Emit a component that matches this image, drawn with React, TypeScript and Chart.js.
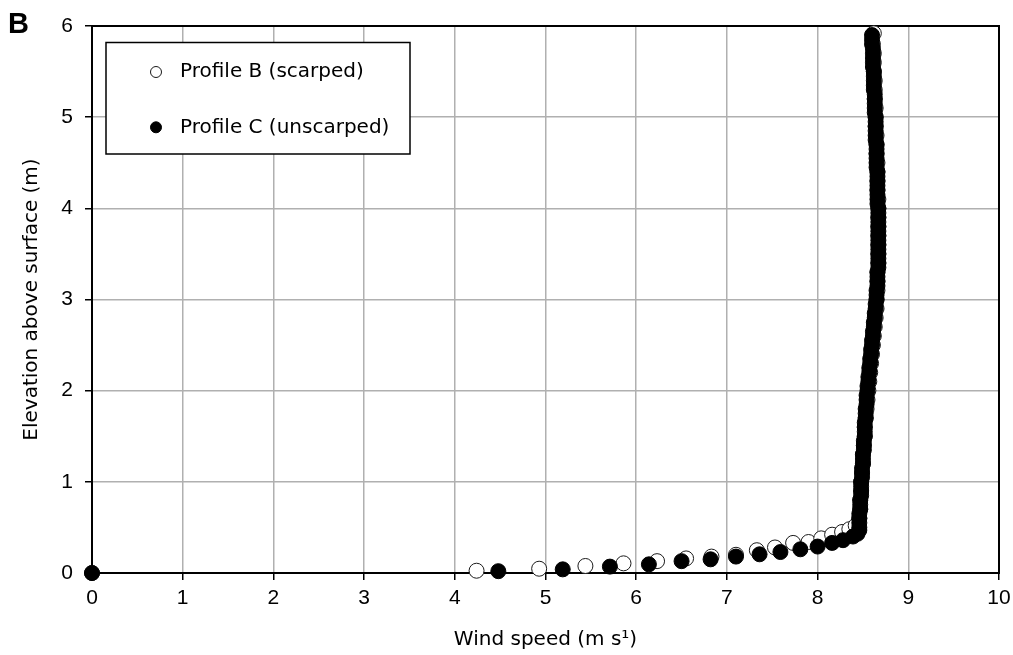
import { useEffect, useRef } from 'react';
import { Chart, registerables } from 'chart.js';

Chart.register(...registerables);

// Wind speed (m/s) and elevation above surface (m) for each profile
const seriesNames = ['Profile B (scarped)', 'Profile C (unscarped)'];

const profileBSpeed = [
  0, 4.24, 4.93, 5.44, 5.86, 6.23, 6.55, 6.83, 7.1, 7.33, 7.53, 7.73, 7.9, 8.04, 8.16, 8.27, 8.35, 8.42,
  8.46, 8.47, 8.47, 8.48, 8.48, 8.49, 8.5, 8.5, 8.51, 8.52, 8.52, 8.53, 8.54, 8.55, 8.56, 8.57,
  8.58, 8.59, 8.6, 8.61, 8.62, 8.63, 8.64, 8.65, 8.65, 8.66, 8.66, 8.66, 8.67, 8.67, 8.67, 8.67,
  8.67, 8.67, 8.67, 8.67, 8.66, 8.66, 8.66, 8.66, 8.65, 8.65, 8.65, 8.64, 8.64, 8.64, 8.63, 8.63,
  8.63, 8.62, 8.62, 8.62, 8.61, 8.62,
];
const profileBElev = [
  0, 0.025, 0.047, 0.077, 0.106, 0.13, 0.16, 0.18, 0.2, 0.25, 0.28, 0.33, 0.34, 0.38, 0.42, 0.45, 0.48, 0.52,
  0.6, 0.7, 0.8, 0.9, 1.0, 1.1, 1.2, 1.3, 1.4, 1.5, 1.6, 1.7, 1.8, 1.9, 2.0, 2.1,
  2.2, 2.3, 2.4, 2.5, 2.6, 2.7, 2.8, 2.9, 3.0, 3.1, 3.2, 3.3, 3.4, 3.5, 3.6, 3.7,
  3.8, 3.9, 4.0, 4.1, 4.2, 4.3, 4.4, 4.5, 4.6, 4.7, 4.8, 4.9, 5.0, 5.1, 5.2, 5.3,
  5.4, 5.5, 5.6, 5.7, 5.8, 5.92,
];

const profileCSpeed = [
  0, 4.48, 5.19, 5.71, 6.14, 6.5, 6.82, 7.1, 7.36, 7.59, 7.81, 8.0, 8.16, 8.28, 8.39, 8.44, 8.46,
  8.46, 8.46, 8.46, 8.46, 8.47, 8.47, 8.47, 8.48, 8.48, 8.48, 8.48, 8.49, 8.49, 8.49, 8.5, 8.5,
  8.5, 8.51, 8.51, 8.51, 8.52, 8.52, 8.52, 8.52, 8.53, 8.53, 8.53, 8.54, 8.54, 8.54, 8.55, 8.55,
  8.56, 8.56, 8.57, 8.57, 8.58, 8.58, 8.59, 8.59, 8.6, 8.6, 8.61, 8.61, 8.62, 8.62, 8.63, 8.63,
  8.64, 8.64, 8.65, 8.65, 8.65, 8.66, 8.66, 8.66, 8.66, 8.67, 8.67, 8.67, 8.67, 8.67, 8.67, 8.67,
  8.67, 8.67, 8.67, 8.67, 8.67, 8.67, 8.67, 8.66, 8.66, 8.66, 8.66, 8.66, 8.66, 8.66, 8.66, 8.65,
  8.65, 8.65, 8.65, 8.65, 8.65, 8.64, 8.64, 8.64, 8.64, 8.64, 8.64, 8.63, 8.63, 8.63, 8.63, 8.63,
  8.62, 8.62, 8.62, 8.62, 8.62, 8.61, 8.61, 8.61, 8.61, 8.61, 8.6, 8.6, 8.6,
];
const profileCElev = [
  0, 0.02, 0.04, 0.07, 0.095, 0.13, 0.15, 0.18, 0.205, 0.23, 0.26, 0.29, 0.33, 0.36, 0.4, 0.43, 0.47,
  0.5, 0.55, 0.6, 0.65, 0.7, 0.75, 0.8, 0.85, 0.9, 0.95, 1.0, 1.05, 1.1, 1.15, 1.2, 1.25,
  1.3, 1.35, 1.4, 1.45, 1.5, 1.55, 1.6, 1.65, 1.7, 1.75, 1.8, 1.85, 1.9, 1.95, 2.0, 2.05,
  2.1, 2.15, 2.2, 2.25, 2.3, 2.35, 2.4, 2.45, 2.5, 2.55, 2.6, 2.65, 2.7, 2.75, 2.8, 2.85,
  2.9, 2.95, 3.0, 3.05, 3.1, 3.15, 3.2, 3.25, 3.3, 3.35, 3.4, 3.45, 3.5, 3.55, 3.6, 3.65,
  3.7, 3.75, 3.8, 3.85, 3.9, 3.95, 4.0, 4.05, 4.1, 4.15, 4.2, 4.25, 4.3, 4.35, 4.4, 4.45,
  4.5, 4.55, 4.6, 4.65, 4.7, 4.75, 4.8, 4.85, 4.9, 4.95, 5.0, 5.05, 5.1, 5.15, 5.2, 5.25,
  5.3, 5.35, 5.4, 5.45, 5.5, 5.55, 5.6, 5.65, 5.7, 5.75, 5.8, 5.85, 5.9,
];

const xTickLabels = ['0', '1', '2', '3', '4', '5', '6', '7', '8', '9', '10'];
const yTickLabels = ['0', '1', '2', '3', '4', '5', '6'];

const xTitle = 'Wind speed (m s\u00B9)';
const yTitle = 'Elevation above surface (m)';
const panelLabel = 'B';

const textFont = '"DejaVu Sans", sans-serif';
const tickFont = '"Liberation Sans", Arial, sans-serif';

const toPoints = (xs: number[], ys: number[]) => xs.map((x, i) => ({ x, y: ys[i] }));

// Black frame round the plotting area
const framePlugin = {
  id: 'plotFrame',
  beforeDatasetsDraw(chart: any) {
    const { ctx, chartArea } = chart;
    ctx.save();
    ctx.strokeStyle = '#000';
    ctx.lineWidth = 2;
    ctx.strokeRect(chartArea.left, chartArea.top, chartArea.right - chartArea.left, chartArea.bottom - chartArea.top);
    ctx.restore();
  },
};

// Boxed legend inside the top-left corner of the plot
const boxLegendPlugin = {
  id: 'boxLegend',
  afterDatasetsDraw(chart: any) {
    const { ctx, chartArea } = chart;
    const left = chartArea.left + 14;
    const top = chartArea.top + 16.5;
    const w = 304;
    const h = 111.5;
    ctx.save();
    ctx.fillStyle = '#fff';
    ctx.fillRect(left, top, w, h);
    ctx.strokeStyle = '#000';
    ctx.lineWidth = 1.5;
    ctx.strokeRect(left, top, w, h);
    ctx.font = `20px ${textFont}`;
    ctx.textBaseline = 'middle';
    ctx.textAlign = 'left';
    chart.data.datasets.forEach((ds: any, i: number) => {
      const cy = top + 29.5 + i * 55.3;
      const cx = left + 50;
      ctx.beginPath();
      ctx.arc(cx, cy, 5.5, 0, Math.PI * 2);
      ctx.fillStyle = ds.pointBackgroundColor;
      ctx.fill();
      ctx.lineWidth = 1;
      ctx.strokeStyle = ds.pointBorderColor;
      ctx.stroke();
      ctx.fillStyle = '#000';
      ctx.fillText(ds.label, left + 74, cy);
    });
    ctx.restore();
  },
};

// Panel letter at the top-left corner
const panelLabelPlugin = {
  id: 'panelLabel',
  afterDraw(chart: any) {
    const { ctx } = chart;
    ctx.save();
    ctx.font = `bold 29px "Liberation Sans", Arial, sans-serif`;
    ctx.fillStyle = '#000';
    ctx.textBaseline = 'alphabetic';
    ctx.textAlign = 'left';
    ctx.fillText(panelLabel, 8, 33);
    ctx.restore();
  },
};

export default function App() {
  const canvasRef = useRef<HTMLCanvasElement | null>(null);

  useEffect(() => {
    const canvas = canvasRef.current;
    if (!canvas) return;
    const chart = new Chart(canvas, {
      type: 'scatter',
      data: {
        datasets: [
          {
            label: seriesNames[0],
            data: toPoints(profileBSpeed, profileBElev),
            pointRadius: 7.5,
            pointHoverRadius: 7.5,
            pointBackgroundColor: '#ffffff',
            pointBorderColor: '#1a1a1a',
            pointBorderWidth: 1,
            order: 2,
            clip: false,
          },
          {
            label: seriesNames[1],
            data: toPoints(profileCSpeed, profileCElev),
            pointRadius: 7.5,
            pointHoverRadius: 7.5,
            pointBackgroundColor: '#000000',
            pointBorderColor: '#000000',
            pointBorderWidth: 1,
            order: 1,
            clip: false,
          },
        ] as any,
      },
      options: {
        animation: false,
        responsive: false,
        events: [],
        layout: { padding: { top: 26, right: 14, left: 0, bottom: 0 } },
        plugins: {
          legend: { display: false },
          tooltip: { enabled: false },
        },
        scales: {
          x: {
            type: 'linear',
            min: 0,
            max: 10,
            afterFit: (scale: any) => {
              scale.height = 82;
              scale.paddingLeft = 0;
              scale.paddingRight = 0;
            },
            border: { display: false },
            grid: {
              color: '#b0b0b0',
              lineWidth: 1.5,
              tickColor: '#000',
              tickLength: 7,
              tickWidth: 1.5,
            },
            ticks: {
              stepSize: 1,
              autoSkip: false,
              maxRotation: 0,
              padding: 6,
              color: '#000',
              font: { family: tickFont, size: 21 },
              callback: (v: any) => xTickLabels[Math.round(Number(v))],
            },
            title: {
              display: true,
              text: xTitle,
              color: '#000',
              font: { family: textFont, size: 20 },
              padding: { top: 0, bottom: 3 },
            },
          },
          y: {
            type: 'linear',
            min: 0,
            max: 6,
            afterFit: (scale: any) => {
              scale.width = 92;
              scale.paddingTop = 0;
              scale.paddingBottom = 0;
            },
            border: { display: false },
            grid: {
              color: '#b0b0b0',
              lineWidth: 1.5,
              tickColor: '#000',
              tickLength: 7,
              tickWidth: 1.5,
            },
            ticks: {
              stepSize: 1,
              autoSkip: false,
              padding: 12,
              color: '#000',
              font: { family: tickFont, size: 21 },
              callback: (v: any) => yTickLabels[Math.round(Number(v))],
            },
            title: {
              display: true,
              text: yTitle,
              color: '#000',
              font: { family: textFont, size: 20 },
              padding: { top: 20, bottom: 0 },
            },
          },
        },
      },
      plugins: [framePlugin, boxLegendPlugin, panelLabelPlugin],
    } as any);
    return () => chart.destroy();
  }, []);

  return (
    <div style={{ position: 'absolute', left: 0, top: 0, width: 1013, height: 655, background: '#fff' }}>
      <canvas ref={canvasRef} width={1013} height={655} />
    </div>
  );
}
